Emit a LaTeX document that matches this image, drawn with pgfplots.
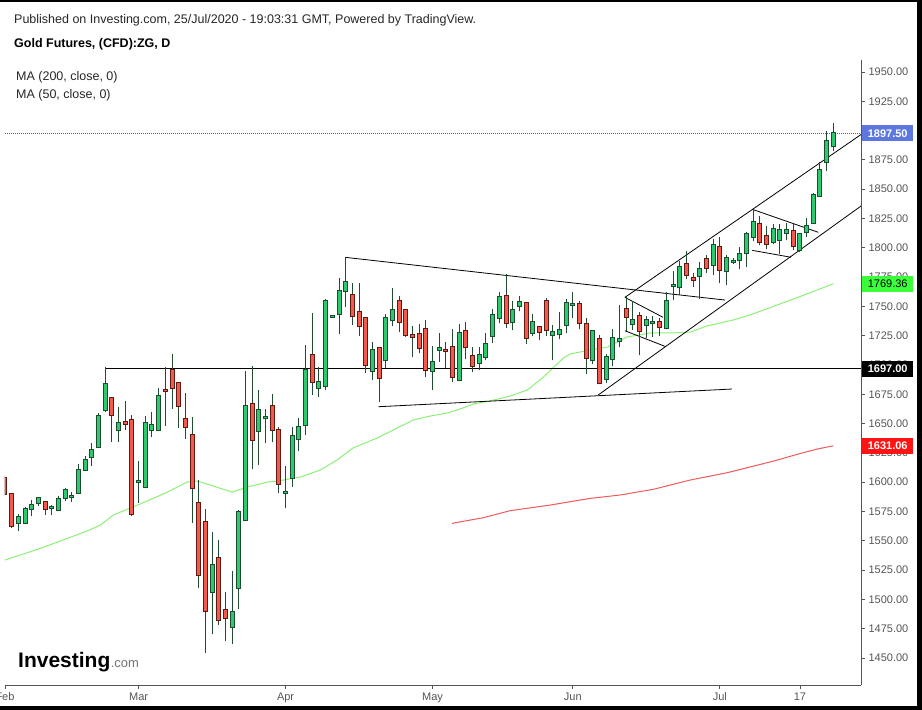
\documentclass[border=0pt]{standalone}
\usepackage{fontspec}
\setmainfont{Liberation Sans}
\usepackage{pgfplots}
\usepackage{pgfplotstable}
\pgfplotsset{compat=1.18}

\definecolor{gfill}{RGB}{46,200,110}
\definecolor{gline}{RGB}{26,77,46}
\definecolor{rfill}{RGB}{242,90,76}
\definecolor{rline}{RGB}{95,24,18}
\definecolor{wick}{RGB}{35,75,50}
\definecolor{maf}{RGB}{140,240,120}
\definecolor{mat}{RGB}{240,90,90}
\definecolor{axgray}{RGB}{85,85,85}
\definecolor{pblue}{RGB}{92,120,222}
\definecolor{dblue}{RGB}{60,95,235}
\definecolor{pgreen}{RGB}{60,255,60}
\definecolor{pred}{RGB}{255,20,20}

\pgfplotstableread{
x o h l c
-18 1564.9 1572.8 1558.6 1570.3
-17 1565.4 1578.5 1564.0 1576.8
-16 1576.8 1584.5 1571.4 1580.2
-15 1582.5 1587.6 1579.9 1586.2
-13 1577.7 1580.5 1572.3 1578.5
-12 1576.0 1588.2 1575.7 1585.4
-11 1586.2 1594.7 1583.7 1593.0
-10 1587.6 1591.9 1583.4 1588.5
-9 1590.8 1615.2 1589.6 1610.1
-8 1610.7 1622.6 1609.8 1618.6
-7 1621.2 1633.1 1614.1 1627.2
-6 1629.7 1658.7 1629.4 1656.2
-5 1661.3 1698.0 1660.2 1683.5
-3 1644.2 1663.9 1634.6 1650.2
0 1599.9 1617.8 1582.5 1600.7
1 1595.6 1656.2 1595.6 1650.2
2 1644.2 1659.9 1638.8 1648.5
3 1644.2 1680.1 1643.4 1673.2
11 1506.6 1557.2 1470.2 1529.0
14 1476.2 1523.9 1462.2 1489.0
15 1509.4 1576.0 1491.5 1574.3
16 1567.4 1694.6 1567.4 1664.7
18 1643.4 1678.4 1614.4 1661.3
19 1654.5 1662.1 1633.1 1655.3
22 1590.8 1613.8 1577.7 1591.9
23 1603.3 1646.8 1596.2 1639.1
24 1636.6 1654.5 1626.3 1646.8
25 1648.5 1716.8 1640.0 1695.4
27 1680.1 1698.0 1672.4 1685.2
28 1681.8 1756.0 1678.4 1754.3
29 1741.0 1742.0 1741.0 1741.5
30 1743.2 1773.9 1726.1 1762.8
31 1762.8 1791.8 1749.2 1770.5
35 1694.6 1719.3 1686.9 1712.5
37 1703.9 1743.2 1697.1 1739.8
38 1738.1 1765.4 1733.0 1746.6
44 1694.6 1715.9 1678.4 1702.3
45 1712.5 1727.0 1702.3 1714.2
48 1686.9 1734.7 1686.0 1727.0
51 1701.4 1715.1 1695.4 1708.2
52 1706.5 1727.0 1704.0 1717.6
53 1724.5 1747.5 1718.5 1742.4
54 1739.8 1762.0 1735.6 1757.7
56 1736.4 1754.3 1729.6 1746.7
57 1750.1 1758.6 1745.8 1753.5
59 1727.0 1743.2 1724.5 1736.4
62 1725.3 1733.9 1704.0 1727.9
63 1726.2 1744.9 1721.9 1729.6
64 1733.9 1756.0 1727.0 1752.6
65 1750.9 1762.0 1739.8 1751.8
68 1704.0 1729.6 1700.6 1728.7
70 1687.8 1709.1 1684.4 1706.6
71 1704.8 1730.4 1698.9 1722.8
72 1720.2 1750.9 1715.1 1721.9
74 1734.7 1754.3 1729.6 1738.1
76 1733.8 1741.5 1722.7 1738.1
77 1736.1 1741.5 1723.6 1736.7
79 1731.3 1762.0 1730.4 1754.3
80 1767.1 1779.9 1755.2 1768.0
81 1766.3 1788.4 1759.4 1783.3
84 1775.6 1787.6 1756.0 1781.6
86 1785.0 1807.2 1776.5 1802.1
88 1779.9 1793.6 1768.0 1791.0
89 1788.2 1791.0 1785.9 1788.7
90 1789.3 1800.4 1781.6 1794.4
91 1795.3 1813.2 1783.3 1811.5
92 1808.9 1832.7 1805.4 1821.7
95 1804.6 1819.9 1802.9 1815.7
96 1806.3 1819.9 1794.4 1814.8
97 1812.3 1820.8 1806.3 1814.8
99 1797.8 1812.3 1796.1 1811.4
100 1813.1 1825.1 1808.9 1818.2
101 1820.8 1846.4 1820.8 1844.7
102 1843.8 1872.8 1843.8 1866.0
103 1872.8 1899.3 1865.2 1890.8
104 1886.5 1906.1 1882.2 1897.5
}\greentab

\pgfplotstableread{
x o h l c
-20 1604.0 1606.0 1588.0 1590.0
-19 1589.6 1590.5 1560.6 1562.3
-14 1582.8 1583.1 1572.3 1576.8
-4 1671.5 1671.5 1634.6 1657.0
-2 1651.1 1669.0 1644.2 1649.3
-1 1652.8 1657.0 1570.9 1572.6
4 1678.4 1698.0 1648.2 1677.5
5 1695.4 1709.4 1662.7 1680.1
6 1684.3 1684.3 1646.5 1664.7
7 1653.6 1676.1 1637.1 1646.8
8 1639.9 1655.3 1565.4 1594.7
9 1581.9 1601.6 1509.4 1520.5
10 1565.7 1576.8 1454.5 1489.8
12 1535.0 1550.4 1477.9 1482.1
13 1490.6 1506.0 1464.8 1483.8
17 1666.4 1698.8 1610.9 1635.7
20 1664.7 1674.9 1634.0 1644.2
21 1644.2 1646.8 1590.5 1598.2
26 1708.2 1744.1 1674.1 1685.2
32 1759.4 1769.7 1733.8 1741.5
33 1744.9 1769.7 1724.4 1733.0
34 1739.8 1739.8 1692.9 1699.7
36 1714.2 1714.2 1668.1 1688.6
39 1754.3 1758.6 1727.9 1736.4
40 1746.6 1747.5 1723.6 1725.3
41 1725.3 1733.0 1706.5 1723.6
42 1726.1 1734.7 1709.9 1714.2
43 1730.4 1738.1 1689.5 1695.4
46 1712.5 1719.3 1697.1 1711.6
47 1715.1 1730.4 1685.2 1689.5
49 1728.7 1736.4 1704.8 1715.1
50 1707.4 1715.1 1693.7 1698.8
55 1758.6 1777.4 1731.3 1735.6
58 1752.6 1752.6 1717.6 1722.8
60 1732.2 1733.0 1721.1 1727.9
61 1754.3 1756.9 1724.5 1729.6
66 1751.8 1754.3 1730.4 1735.6
67 1734.7 1739.8 1692.0 1705.7
69 1721.9 1725.3 1683.5 1684.4
73 1747.5 1757.7 1728.7 1740.7
75 1741.5 1744.9 1708.2 1728.7
78 1736.4 1739.8 1724.4 1732.1
82 1785.9 1797.0 1773.1 1776.5
83 1773.9 1778.2 1766.3 1772.2
85 1790.1 1793.6 1778.2 1782.5
87 1800.4 1808.9 1769.7 1780.8
93 1819.9 1826.8 1802.0 1804.6
94 1809.7 1818.2 1798.6 1802.9
98 1814.0 1819.9 1797.8 1801.2
}\redtab

\begin{document}
\begin{tikzpicture}[x=1pt,y=1pt]
\path[use as bounding box] (0,0) rectangle (922,710);
\fill[black] (0,707.5) rectangle (922,710);
\fill[black] (917,0) rectangle (922,710);
\fill[black] (0,0) rectangle (922,3.5);

\node[anchor=base west, inner sep=0pt, text=black!85, font=\fontsize{12.5}{14}\selectfont] at (14,686) {Published on Investing.com, 25/Jul/2020 - 19:03:31 GMT, Powered by TradingView.};
\node[anchor=base west, inner sep=0pt, text=black, font=\bfseries\fontsize{12.5}{14}\selectfont] at (14,662) {Gold Futures, (CFD):ZG, D};
\node[anchor=base west, inner sep=0pt, text=black!85, font=\fontsize{12.5}{14}\selectfont] at (16,629) {MA (200, close, 0)};
\node[anchor=base west, inner sep=0pt, text=black!85, font=\fontsize{12.5}{14}\selectfont] at (16,611) {MA (50, close, 0)};

\pgfplotsset{candle/.style={draw=none, mark=*, only marks, mark options={scale=0, draw=none, fill=none}, forget plot,
  error bars/y dir=plus, error bars/y explicit, error bars/error mark=none}}

\begin{axis}[
  at={(5pt,25pt)}, anchor=south west, scale only axis,
  width=856pt, height=625pt,
  xmin=-20, xmax=108.14, ymin=1427, ymax=1960.2,
  axis x line*=bottom, axis y line*=right,
  axis line style={axgray, line width=0.8pt, -},
  tick align=outside, major tick length=4pt,
  tick style={axgray, line width=0.8pt},
  xtick={-20,0,22,44,65,87,99},
  xticklabels={Feb,Mar,Apr,May,Jun,Jul,17},
  ytick={1450,1475,1500,1525,1550,1575,1600,1625,1650,1675,1700,1725,1750,1775,1800,1825,1850,1875,1900,1925,1950},
  yticklabels={1450.00,1475.00,1500.00,1525.00,1550.00,1575.00,1600.00,1625.00,1650.00,1675.00,1700.00,1725.00,1750.00,1775.00,1800.00,1825.00,1850.00,1875.00,1900.00,1925.00,1950.00},
  ticklabel style={font=\fontsize{11}{13}\selectfont, text=axgray},
  clip=true,
]
% last price dotted line
\addplot[dblue, line width=0.7pt, dash pattern=on 1pt off 1pt, forget plot] coordinates {(-20,1897.5) (108.14,1897.5)};
% moving averages
\addplot[maf, line width=1pt, forget plot] coordinates {
(-20.0,1533.6) (-15.0,1543.0) (-11.3,1550.7) (-7.7,1558.4) (-5.7,1563.5) (-3.8,1572.0)
(-1.2,1578.0) (1.3,1584.0) (4.3,1591.6) (7.3,1600.2) (8.8,1601.0) (14.0,1591.6)
(16.3,1595.9) (19.3,1600.2) (20.8,1601.0) (24.2,1604.4) (27.2,1610.4) (29.7,1618.9)
(32.1,1629.2) (35.7,1637.7) (38.7,1646.2) (41.1,1653.1) (43.7,1656.5) (46.2,1659.0)
(47.7,1661.6) (50.1,1666.7) (52.6,1669.3) (55.6,1673.5) (58.2,1678.7) (60.6,1689.7)
(63.6,1706.0) (64.6,1709.4) (67.6,1712.8) (70.2,1715.3) (73.1,1723.9) (76.6,1727.3)
(79.6,1727.3) (82.6,1728.1) (85.1,1733.3) (89.0,1738.4) (91.5,1742.6) (97.6,1755.4)
(101.6,1764.0) (104,1769.36)};
\addplot[mat, line width=1pt, forget plot] coordinates {
(46.9,1564.9) (51.6,1569.7) (55.6,1575.7) (61.6,1580.5) (67.6,1586.2) (72.1,1589.1)
(77.1,1594.0) (82.6,1601.9) (88.1,1608.1) (92.1,1613.8) (95.1,1618.1) (99.1,1624.6)
(101.6,1628.3) (104,1631.06)};
% drawn lines
\addplot[black, line width=0.9pt, forget plot] coordinates {(-5,1697) (108.14,1697)};
\addplot[black, line width=0.8pt, forget plot] coordinates {(31,1791.8) (87.8,1755.4)};
\addplot[black, line width=0.8pt, forget plot] coordinates {(35.9,1664.4) (88.8,1679.5)};
\addplot[black, line width=0.8pt, forget plot] coordinates {(68.8,1674.4) (108.14,1835.6)};
\addplot[black, line width=0.8pt, forget plot] coordinates {(72.8,1757.7) (108.14,1896.6)};
\addplot[black, line width=0.8pt, forget plot] coordinates {(72.8,1757.7) (78.5,1740.7)};
\addplot[black, line width=0.8pt, forget plot] coordinates {(72.8,1729.2) (78.95,1715.6)};
\addplot[black, line width=0.8pt, forget plot] coordinates {(91.87,1832.8) (101.75,1813.2)};
\addplot[black, line width=0.8pt, forget plot] coordinates {(91.87,1797.8) (97.66,1791.9)};
% wicks
\addplot[candle, error bars/error bar style={line width=1pt, draw=wick}]
  table[x=x, y=l, y error plus expr={\thisrow{h}-\thisrow{l}}] {\greentab};
\addplot[candle, error bars/error bar style={line width=1pt, draw=wick}]
  table[x=x, y=l, y error plus expr={\thisrow{h}-\thisrow{l}}] {\redtab};
% bodies: outline then fill
\addplot[candle, error bars/error bar style={line width=5pt, draw=gline}]
  table[x=x, y expr={\thisrow{o}-0.85}, y error plus expr={\thisrow{c}-\thisrow{o}+1.7}] {\greentab};
\addplot[candle, error bars/error bar style={line width=3pt, draw=gfill}]
  table[x=x, y=o, y error plus expr={\thisrow{c}-\thisrow{o}}] {\greentab};
\addplot[candle, error bars/error bar style={line width=5pt, draw=rline}]
  table[x=x, y expr={\thisrow{c}-0.85}, y error plus expr={\thisrow{o}-\thisrow{c}+1.7}] {\redtab};
\addplot[candle, error bars/error bar style={line width=3pt, draw=rfill}]
  table[x=x, y=c, y error plus expr={\thisrow{o}-\thisrow{c}}] {\redtab};

\coordinate (pb) at (axis cs:108.14,1897.5);
\coordinate (pg) at (axis cs:108.14,1769.36);
\coordinate (pk) at (axis cs:108.14,1697);
\coordinate (pr) at (axis cs:108.14,1631.06);
\end{axis}

\tikzset{pricebox/.style={anchor=west, inner sep=0pt, minimum width=51pt, minimum height=16pt, font=\bfseries\fontsize{11}{13}\selectfont}}
\node[pricebox, fill=pblue, text=white] at ([xshift=1pt]pb) {1897.50};
\node[pricebox, fill=pgreen, text=black, font=\fontsize{11}{13}\selectfont] at ([xshift=1pt]pg) {1769.36};
\node[pricebox, fill=black, text=white] at ([xshift=1pt]pk) {1697.00};
\node[pricebox, fill=pred, text=white] at ([xshift=1pt]pr) {1631.06};

% logo
\node[anchor=base west, inner sep=0pt, text=black, font=\bfseries\fontsize{21}{24}\selectfont] (logo) at (18,42) {Investing};
\node[anchor=base west, inner sep=0pt, text=black!55, font=\fontsize{13}{15}\selectfont] at (logo.base east) {.com};
\end{tikzpicture}
\end{document}
